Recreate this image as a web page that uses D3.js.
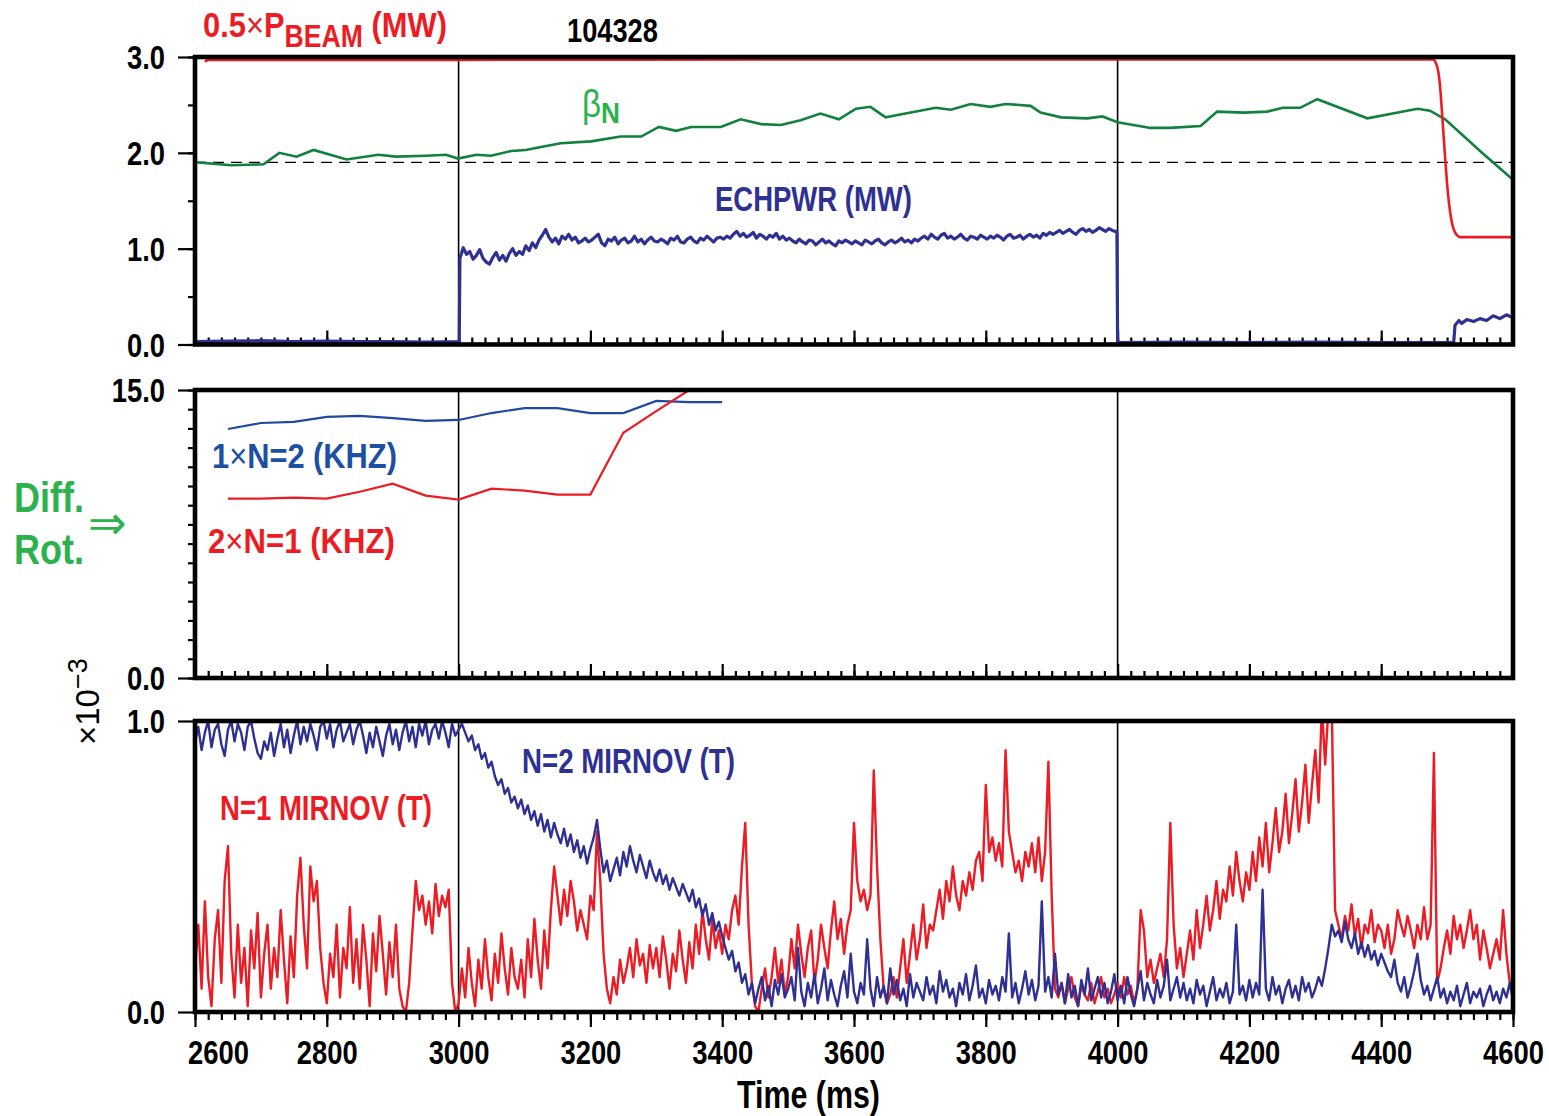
<!DOCTYPE html>
<html><head><meta charset="utf-8">
<script src="https://cdn.jsdelivr.net/npm/d3@7"></script>
<style>
body{margin:0;background:#fff}
svg text{font-family:"Liberation Sans",Arial,sans-serif;font-weight:bold}
</style></head><body><svg id="c" width="1549" height="1116"></svg>
<script>
// ---- shot 104328 time traces ----
const timeDomain = [2600, 4600];
const timeMajorTicks = [2600, 2800, 3000, 3200, 3400, 3600, 3800, 4000, 4200, 4400, 4600];
const markerTimes = [3000, 4000];

// panel 1: 0.5 x beam power (MW)
const beamPower = [[2615,2.95],[2620,2.97],[3000,2.97],[3500,2.975],[4000,2.975],[4478,2.975],[4484,2.92],[4489,2.72],[4493,2.35],[4497,1.95],[4501,1.6],[4506,1.32],[4512,1.17],[4520,1.12],[4600,1.12]];
// panel 1: normalized beta
const betaN = [[2604,1.90],[2655,1.87],[2704,1.88],[2728,2.00],[2754,1.96],[2780,2.03],[2830,1.93],[2878,1.98],[2905,1.96],[2951,1.97],[2981,1.98],[2999,1.94],[3027,1.98],[3049,1.97],[3080,2.02],[3102,2.03],[3125,2.06],[3155,2.10],[3201,2.12],[3246,2.17],[3277,2.17],[3304,2.27],[3330,2.23],[3353,2.27],[3398,2.27],[3428,2.35],[3459,2.30],[3489,2.29],[3519,2.34],[3549,2.41],[3577,2.35],[3603,2.46],[3625,2.48],[3648,2.37],[3678,2.41],[3724,2.47],[3747,2.45],[3777,2.51],[3807,2.48],[3830,2.51],[3868,2.49],[3883,2.42],[3914,2.37],[3954,2.36],[3977,2.38],[4000,2.32],[4050,2.26],[4080,2.26],[4126,2.28],[4151,2.43],[4191,2.42],[4227,2.43],[4251,2.47],[4277,2.47],[4303,2.56],[4379,2.36],[4455,2.46],[4474,2.44],[4497,2.35],[4553,2.00],[4600,1.72]];
const betaRef = 1.9;
// panel 1: ECH power (MW)
const echBefore = [[2600,0.03],[2650,0.035],[2700,0.04],[2750,0.03],[2800,0.035],[2850,0.03],[2900,0.03],[2950,0.025],[3001,0.03]];
const echStart = 3002, echStep = 5;
const echValues = [
 0.90,1.01,0.94,0.97,0.89,0.93,0.99,0.90,0.86,0.84,0.91,0.96,0.88,0.93,0.87,0.95,1.00,0.93,0.97,0.94,
 1.03,0.98,1.06,1.01,1.09,1.14,1.20,1.12,1.07,1.11,1.05,1.13,1.10,1.15,1.09,1.12,1.06,1.08,1.11,1.07,
 1.09,1.12,1.15,1.06,1.03,1.10,1.08,1.12,1.05,1.09,1.11,1.06,1.08,1.13,1.07,1.10,1.05,1.09,1.12,1.08,
 1.07,1.10,1.08,1.05,1.11,1.09,1.13,1.07,1.06,1.10,1.12,1.08,1.06,1.11,1.09,1.13,1.10,1.07,1.11,1.12,
 1.10,1.13,1.11,1.15,1.18,1.13,1.16,1.12,1.14,1.17,1.11,1.15,1.13,1.10,1.14,1.12,1.16,1.10,1.13,1.09,
 1.11,1.08,1.06,1.10,1.07,1.05,1.09,1.08,1.04,1.07,1.10,1.06,1.08,1.05,1.03,1.08,1.06,1.09,1.07,1.05,
 1.08,1.06,1.04,1.09,1.07,1.05,1.08,1.10,1.06,1.04,1.07,1.09,1.06,1.08,1.11,1.07,1.09,1.06,1.10,1.08,
 1.11,1.13,1.10,1.15,1.12,1.10,1.14,1.16,1.11,1.13,1.10,1.12,1.15,1.11,1.09,1.13,1.12,1.10,1.14,1.12,
 1.10,1.13,1.11,1.14,1.12,1.09,1.13,1.15,1.11,1.12,1.14,1.10,1.13,1.15,1.12,1.14,1.11,1.16,1.14,1.17,
 1.15,1.17,1.19,1.16,1.18,1.20,1.17,1.15,1.19,1.21,1.18,1.20,1.17,1.19,1.22,1.20,1.18,1.21,1.19,1.18];
const echAfter = [[3999,1.18],[4000,0.02],[4100,0.025],[4200,0.02],[4300,0.025],[4400,0.02],[4510,0.02],[4512,0.2],[4518,0.25],[4522,0.22],[4530,0.26],[4540,0.24],[4550,0.27],[4560,0.25],[4570,0.30],[4580,0.27],[4590,0.31],[4600,0.28]];

// panel 2: mode frequencies (kHz)
const freqTimes = [2650,2700,2750,2800,2850,2900,2950,3000,3050,3100,3150,3200,3250,3300,3350,3400];
const freqN2 = [12.97,13.28,13.34,13.60,13.65,13.54,13.39,13.44,13.80,14.06,14.06,13.80,13.80,14.43,14.37,14.37];
const freqN1x2 = [9.34,9.34,9.39,9.34,9.70,10.12,9.50,9.29,9.86,9.76,9.55,9.55,12.77,13.9,15.0];

// panel 3: Mirnov amplitudes (x1e-3 T), sampled every 5 ms from 2600 ms
const mirnovStart = 2600, mirnovStep = 5;
const mirnovN2 = [
 0.93,0.98,0.90,0.96,1.00,0.91,0.97,0.99,0.92,0.88,0.97,1.00,0.93,0.99,0.96,0.90,0.98,1.00,0.94,0.89,
 0.87,0.93,0.90,0.96,0.88,0.94,0.99,0.91,0.97,0.89,0.95,1.00,0.92,0.98,0.93,0.99,0.95,0.90,0.98,1.00,
 0.94,0.99,0.91,0.97,1.00,0.93,0.96,0.99,0.92,0.97,1.00,0.95,0.89,0.96,0.91,0.98,0.93,0.88,0.95,0.99,
 0.92,0.97,0.90,0.96,1.00,0.93,0.98,0.91,0.99,0.95,1.00,0.92,0.97,0.99,0.94,1.00,0.96,0.91,0.99,0.95,
 0.97,0.99,0.96,0.93,0.95,0.90,0.92,0.87,0.89,0.84,0.86,0.81,0.78,0.80,0.75,0.77,0.72,0.74,0.70,0.73,
 0.68,0.71,0.66,0.69,0.64,0.68,0.62,0.66,0.60,0.65,0.61,0.58,0.63,0.57,0.61,0.55,0.59,0.53,0.57,0.51,
 0.56,0.60,0.66,0.56,0.48,0.52,0.45,0.49,0.53,0.47,0.55,0.50,0.57,0.52,0.48,0.54,0.50,0.46,0.52,0.48,
 0.45,0.49,0.44,0.47,0.42,0.46,0.43,0.40,0.44,0.41,0.38,0.42,0.36,0.39,0.33,0.37,0.30,0.34,0.28,0.31,
 0.26,0.22,0.18,0.21,0.14,0.17,0.10,0.13,0.06,0.10,0.03,0.08,0.12,0.04,0.09,0.02,0.11,0.06,0.13,0.05,
 0.08,0.12,0.04,0.22,0.07,0.02,0.10,0.05,0.13,0.03,0.08,0.15,0.04,0.11,0.06,0.02,0.09,0.14,0.05,0.20,
 0.07,0.03,0.10,0.06,0.25,0.08,0.02,0.12,0.05,0.09,0.03,0.15,0.06,0.11,0.04,0.08,0.02,0.13,0.05,0.10,
 0.07,0.04,0.12,0.06,0.09,0.03,0.14,0.07,0.11,0.05,0.08,0.02,0.10,0.06,0.13,0.04,0.09,0.16,0.05,0.08,
 0.03,0.11,0.06,0.09,0.04,0.12,0.07,0.27,0.05,0.10,0.03,0.08,0.14,0.06,0.11,0.04,0.09,0.38,0.07,0.12,
 0.05,0.20,0.06,0.10,0.03,0.13,0.05,0.09,0.02,0.11,0.06,0.15,0.04,0.08,0.12,0.05,0.10,0.03,0.07,0.13,
 0.04,0.09,0.03,0.12,0.06,0.02,0.08,0.14,0.04,0.10,0.06,0.03,0.11,0.05,0.09,0.18,0.04,0.08,0.12,0.05,
 0.10,0.04,0.08,0.03,0.11,0.06,0.09,0.02,0.07,0.12,0.04,0.08,0.05,0.10,0.03,0.07,0.30,0.06,0.09,0.04,
 0.11,0.05,0.10,0.06,0.42,0.08,0.04,0.12,0.06,0.09,0.03,0.08,0.11,0.05,0.09,0.04,0.12,0.07,0.10,0.05,
 0.08,0.12,0.09,0.15,0.22,0.30,0.26,0.28,0.24,0.31,0.25,0.22,0.27,0.20,0.24,0.19,0.23,0.18,0.21,0.16,
 0.20,0.17,0.14,0.12,0.18,0.10,0.07,0.12,0.05,0.09,0.14,0.20,0.11,0.06,0.09,0.04,0.08,0.12,0.05,0.08,
 0.03,0.07,0.04,0.09,0.02,0.06,0.10,0.03,0.07,0.05,0.08,0.02,0.06,0.09,0.04,0.07,0.03,0.08,0.05,0.10,
 0.04];
const mirnovN1 = [
 0.15,0.30,0.08,0.38,0.12,0.02,0.25,0.35,0.10,0.45,0.57,0.20,0.05,0.30,0.10,0.22,0.02,0.28,0.15,0.34,
 0.05,0.20,0.30,0.08,0.22,0.12,0.35,0.18,0.03,0.26,0.12,0.40,0.53,0.30,0.15,0.50,0.38,0.45,0.22,0.10,
 0.03,0.20,0.12,0.30,0.05,0.22,0.15,0.36,0.10,0.25,0.08,0.30,0.18,0.02,0.27,0.14,0.33,0.20,0.06,0.24,
 0.12,0.30,0.08,0.02,0.00,0.10,0.28,0.45,0.35,0.40,0.30,0.38,0.27,0.44,0.33,0.40,0.36,0.42,0.10,0.00,
 0.03,0.15,0.05,0.22,0.10,0.02,0.18,0.08,0.25,0.12,0.04,0.20,0.10,0.27,0.15,0.06,0.22,0.12,0.08,0.18,
 0.05,0.25,0.12,0.32,0.18,0.08,0.28,0.15,0.35,0.50,0.40,0.30,0.42,0.33,0.45,0.38,0.28,0.35,0.30,0.25,
 0.40,0.35,0.62,0.45,0.20,0.08,0.03,0.12,0.06,0.18,0.10,0.15,0.22,0.12,0.25,0.16,0.20,0.10,0.23,0.15,
 0.22,0.12,0.26,0.18,0.08,0.20,0.14,0.28,0.18,0.10,0.24,0.15,0.30,0.20,0.35,0.25,0.18,0.32,0.22,0.28,
 0.20,0.30,0.25,0.35,0.40,0.30,0.50,0.65,0.30,0.10,0.02,0.00,0.08,0.15,0.05,0.12,0.22,0.10,0.18,0.06,
 0.12,0.25,0.15,0.30,0.20,0.12,0.22,0.28,0.10,0.18,0.30,0.22,0.15,0.28,0.38,0.25,0.32,0.20,0.30,0.35,
 0.65,0.45,0.38,0.42,0.35,0.40,0.83,0.50,0.25,0.08,0.03,0.06,0.12,0.05,0.15,0.25,0.10,0.20,0.30,0.18,
 0.25,0.37,0.22,0.30,0.28,0.35,0.42,0.32,0.45,0.38,0.50,0.40,0.35,0.45,0.40,0.48,0.42,0.52,0.55,0.45,
 0.78,0.55,0.60,0.52,0.58,0.50,0.90,0.62,0.55,0.48,0.52,0.45,0.55,0.50,0.58,0.48,0.60,0.45,0.55,0.86,
 0.40,0.08,0.05,0.10,0.03,0.08,0.12,0.05,0.02,0.09,0.06,0.04,0.10,0.03,0.07,0.12,0.05,0.08,0.03,0.06,
 0.10,0.05,0.12,0.06,0.09,0.03,0.08,0.35,0.28,0.12,0.18,0.10,0.15,0.20,0.12,0.25,0.65,0.30,0.15,0.22,
 0.12,0.20,0.28,0.18,0.35,0.22,0.30,0.40,0.28,0.35,0.45,0.32,0.42,0.38,0.50,0.40,0.55,0.45,0.38,0.48,
 0.42,0.55,0.45,0.60,0.50,0.65,0.48,0.58,0.70,0.55,0.62,0.75,0.58,0.68,0.80,0.62,0.72,0.85,0.65,0.78,
 0.90,0.72,1.05,0.85,1.05,1.05,0.35,0.30,0.25,0.33,0.28,0.37,0.26,0.32,0.22,0.30,0.27,0.35,0.24,0.30,
 0.28,0.22,0.30,0.20,0.25,0.35,0.30,0.26,0.33,0.28,0.22,0.30,0.25,0.36,0.25,0.30,0.89,0.10,0.15,0.22,
 0.28,0.20,0.33,0.25,0.30,0.22,0.28,0.35,0.25,0.30,0.18,0.28,0.22,0.15,0.20,0.25,0.18,0.35,0.20,0.10,
 0.08];

// ---- colours ----
const RED = "#ec1c24", NAVY = "#2e3192", BLUE = "#2149a0", DKGREEN = "#12803f", GREEN = "#2bb24c";
const TICK_SQUEEZE = 0.83;

const svg = d3.select("#c");
const x = d3.scaleLinear().domain(timeDomain).range([195, 1513]);
const minorTimes = d3.range(2600, 4601, 20);

// horizontally condense a text element about its anchor point
function squeeze(sel, k) {
  sel.each(function () {
    const b = this.getBBox();
    const a = getComputedStyle(this).textAnchor;
    const ax = a === "end" ? b.x + b.width : a === "middle" ? b.x + b.width / 2 : b.x;
    d3.select(this).attr("transform", `translate(${ax},0) scale(${k},1) translate(${-ax},0)`);
  });
}
function fitWidth(sel, w) {
  sel.each(function () { squeeze(d3.select(this), w / this.getBBox().width); });
}

const panels = [
  {id: "p1", top: 57, bottom: 344.5, domain: [0, 3], labels: [0, 1, 2, 3], minor: d3.range(0, 3.01, 0.5)},
  {id: "p2", top: 390, bottom: 678, domain: [0, 15], labels: [0, 15], minor: d3.range(0, 15.01, 1)},
  {id: "p3", top: 721, bottom: 1012, domain: [0, 1], labels: [0, 1], minor: []}
];
panels.forEach(p => { p.y = d3.scaleLinear().domain(p.domain).range([p.bottom, p.top]); });

const defs = svg.append("defs");
panels.forEach(p => {
  defs.append("clipPath").attr("id", "clip-" + p.id)
    .append("rect").attr("x", x.range()[0]).attr("y", p.top).attr("width", x.range()[1] - x.range()[0]).attr("height", p.bottom - p.top);
});

function styleAxis(g, size) {
  g.select(".domain").remove();
  g.selectAll("line").attr("stroke", "#000").attr("stroke-width", 2.2);
  g.selectAll("text").attr("fill", "#000").attr("font-size", size).attr("font-family", null);
}

panels.forEach((p, i) => {
  // left axis: long labelled ticks, short minor ticks
  const gMinor = svg.append("g").attr("transform", `translate(${x.range()[0]},0)`)
    .call(d3.axisLeft(p.y).tickValues(p.minor).tickSize(7).tickFormat(""));
  styleAxis(gMinor, 32);
  const gMajor = svg.append("g").attr("transform", `translate(${x.range()[0]},0)`)
    .call(d3.axisLeft(p.y).tickValues(p.labels).tickSize(17).tickPadding(13).tickFormat(d3.format(".1f")));
  styleAxis(gMajor, 33);
  gMajor.selectAll("text").attr("dy", "0.36em");
  squeeze(gMajor.selectAll("text"), TICK_SQUEEZE);

  // bottom time ticks
  if (i < 2) {
    const gb1 = svg.append("g").attr("transform", `translate(0,${p.bottom})`)
      .call(d3.axisBottom(x).tickValues(minorTimes).tickSize(-7).tickFormat(""));
    styleAxis(gb1, 0);
    const gb2 = svg.append("g").attr("transform", `translate(0,${p.bottom})`)
      .call(d3.axisBottom(x).tickValues(timeMajorTicks).tickSize(-14).tickFormat(""));
    styleAxis(gb2, 0);
  } else {
    const gb1 = svg.append("g").attr("transform", `translate(0,${p.bottom})`)
      .call(d3.axisBottom(x).tickValues(minorTimes).tickSize(8).tickFormat(""));
    styleAxis(gb1, 0);
    const gb2 = svg.append("g").attr("transform", `translate(0,${p.bottom})`)
      .call(d3.axisBottom(x).tickValues(timeMajorTicks).tickSize(15).tickPadding(14).tickFormat(d3.format("d")));
    styleAxis(gb2, 33);
    // first label sits just right of the corner
    gb2.selectAll("text").filter(d => d === timeDomain[0]).attr("x", 23);
    squeeze(gb2.selectAll("text"), TICK_SQUEEZE);
  }

  // marker lines
  svg.append("g").selectAll("line").data(markerTimes).join("line")
    .attr("x1", d => x(d)).attr("x2", d => x(d)).attr("y1", p.top).attr("y2", p.bottom)
    .attr("stroke", "#000").attr("stroke-width", 1.6);
});

const plot = id => svg.append("g").attr("clip-path", `url(#clip-${id})`);
const lineOf = y => d3.line().x(d => x(d[0])).y(d => y(d[1]));
const seq = (start, step, vals) => vals.map((v, k) => [start + k * step, v]);

// panel 1
const p1 = panels[0], g1 = plot("p1");
g1.append("line").attr("x1", x(2600)).attr("x2", x(4600)).attr("y1", p1.y(betaRef)).attr("y2", p1.y(betaRef))
  .attr("stroke", "#000").attr("stroke-width", 1.3).attr("stroke-dasharray", "11,7");
const echSeries = echBefore.concat(seq(echStart, echStep, echValues), echAfter);
g1.append("path").datum(echSeries).attr("d", lineOf(p1.y)).attr("fill", "none").attr("stroke", NAVY).attr("stroke-width", 3.2).attr("stroke-linejoin", "round");
g1.append("path").datum(betaN).attr("d", lineOf(p1.y)).attr("fill", "none").attr("stroke", DKGREEN).attr("stroke-width", 2.6);
g1.append("path").datum(beamPower).attr("d", lineOf(p1.y).curve(d3.curveMonotoneX)).attr("fill", "none").attr("stroke", RED).attr("stroke-width", 2.6);

// panel 2
const p2 = panels[1], g2 = plot("p2");
g2.append("path").datum(freqTimes.map((t, k) => [t, freqN2[k]])).attr("d", lineOf(p2.y)).attr("fill", "none").attr("stroke", BLUE).attr("stroke-width", 2.2);
g2.append("path").datum(freqN1x2.map((v, k) => [freqTimes[k], v])).attr("d", lineOf(p2.y)).attr("fill", "none").attr("stroke", RED).attr("stroke-width", 2.2);

// panel 3
const p3 = panels[2], g3 = plot("p3");
g3.append("path").datum(seq(mirnovStart, mirnovStep, mirnovN1)).attr("d", lineOf(p3.y)).attr("fill", "none").attr("stroke", RED).attr("stroke-width", 2.4).attr("stroke-linejoin", "round");
g3.append("path").datum(seq(mirnovStart, mirnovStep, mirnovN2)).attr("d", lineOf(p3.y)).attr("fill", "none").attr("stroke", NAVY).attr("stroke-width", 2.4).attr("stroke-linejoin", "round");

// frames
panels.forEach(p => {
  svg.append("rect").attr("x", x.range()[0]).attr("y", p.top).attr("width", x.range()[1] - x.range()[0]).attr("height", p.bottom - p.top)
    .attr("fill", "none").attr("stroke", "#000").attr("stroke-width", 4.6);
});

// labels
function label(txt, xx, yy, size, color, width) {
  const t = svg.append("text").attr("x", xx).attr("y", yy).attr("font-size", size).attr("fill", color).text(txt);
  if (width) fitWidth(t, width);
  return t;
}
const beam = svg.append("text").attr("x", 203).attr("y", 37).attr("font-size", 36).attr("fill", RED);
beam.append("tspan").text("0.5");
beam.append("tspan").style("font-weight", "normal").text("×");
beam.append("tspan").text("P");
beam.append("tspan").attr("font-size", 31).attr("dy", 10).text("BEAM");
beam.append("tspan").attr("dy", -10).text(" (MW)");
fitWidth(beam, 244);

label("104328", 567, 42, 34, "#000", 91);

const beta = svg.append("text").attr("x", 582).attr("y", 117).attr("fill", GREEN);
beta.append("tspan").attr("font-size", 38).style("font-weight", "normal").text("β");
beta.append("tspan").attr("font-size", 30).attr("dy", 6).text("N");
fitWidth(beta, 38);

label("ECHPWR (MW)", 715, 211, 35, NAVY, 197);

function multLabel(parts, xx, yy, size, color, width) {
  const t = svg.append("text").attr("x", xx).attr("y", yy).attr("font-size", size).attr("fill", color);
  t.append("tspan").text(parts[0]);
  t.append("tspan").style("font-weight", "normal").text("×");
  t.append("tspan").text(parts[1]);
  fitWidth(t, width);
  return t;
}
multLabel(["1", "N=2 (KHZ)"], 212, 468, 36, "#1d50a2", 185);
multLabel(["2", "N=1 (KHZ)"], 208, 553, 36, RED, 187);

label("Diff.", 14, 512, 42, GREEN, 70);
label("Rot.", 14, 564, 42, GREEN, 70);
svg.append("text").attr("x", 88).attr("y", 539).attr("font-size", 46).attr("fill", GREEN)
  .style("font-weight", "normal").style("font-family", "DejaVu Sans, sans-serif").text("⇒");

const sci = svg.append("text").attr("transform", "translate(99,745) rotate(-90)").attr("font-size", 33).attr("fill", "#000")
  .style("font-weight", "normal");
sci.append("tspan").text("×10");
sci.append("tspan").attr("dy", -12).attr("font-size", 27).text("−3");

label("N=2 MIRNOV (T)", 522, 773, 35, NAVY, 213);
label("N=1 MIRNOV (T)", 220, 820, 35, RED, 212);
label("Time (ms)", 737, 1108, 38, "#000", 143);
</script></body></html>
